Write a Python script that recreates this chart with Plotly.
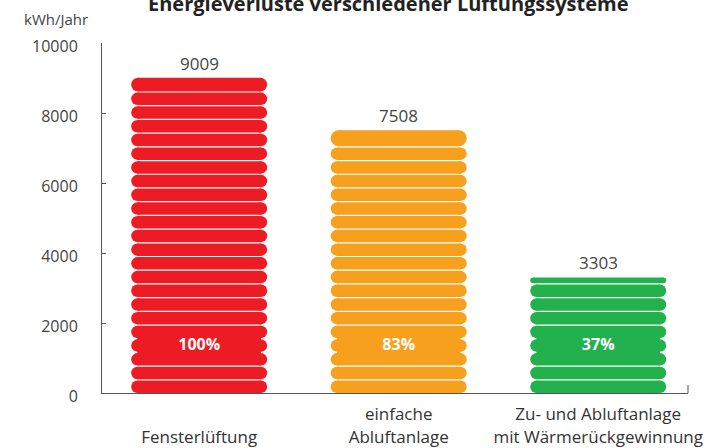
import plotly.graph_objects as go

# ---- data ----
categories = ["Fensterlüftung", "einfache<br>Abluftanlage", "Zu- und Abluftanlage<br>mit Wärmerückgewinnung"]
tick_text = ["<br>Fensterlüftung", "einfache<br>Abluftanlage", "Zu- und Abluftanlage<br>mit Wärmerückgewinnung"]
values = [9009, 7508, 3303]
value_labels = ["9009", "7508", "3303"]
percent_labels = ["100%", "83%", "37%"]
colors = ["#ED1C24", "#F7A01E", "#22B14C"]
y_tick_vals = [0, 2000, 4000, 6000, 8000, 10000]
y_tick_text = ["0", "2000", "4000", "6000", "8000", "10000"]
title_text = "Energieverluste verschiedener Lüftungssysteme"
y_unit_label = "kWh/Jahr"

# ---- style / geometry ----
W, H = 718, 448
M_L, M_R, M_T, M_B = 102, 30, 43, 55
PLOT_W = W - M_L - M_R
PLOT_H = H - M_T - M_B
X_RANGE = [-0.487, 2.450]
Y_RANGE = [0, 10000]
PX_X = PLOT_W / (X_RANGE[1] - X_RANGE[0])
PX_Y = PLOT_H / (Y_RANGE[1] - Y_RANGE[0])
STRIPE_UNIT = 391.7          # kWh per stripe
GAP_PX = 1.2
BAR_W_PX = 136
MERGE_FROM, MERGE_TO = 2, 4  # stripes merged behind percent label
FONT = "Open Sans, Noto Sans, sans-serif"
AXIS_COLOR = "#555555"
TEXT_COLOR = "#444444"

x_pos = list(range(len(categories)))
gap = GAP_PX / PX_Y

fig = go.Figure()


def stripes(v):
    n = int(v // STRIPE_UNIT)
    rem = v - n * STRIPE_UNIT
    out = []
    if rem / STRIPE_UNIT < 0.3:
        for k in range(n):
            b = k * STRIPE_UNIT
            t = v if k == n - 1 else (k + 1) * STRIPE_UNIT - gap
            out.append((b, t))
    else:
        for k in range(n):
            out.append((k * STRIPE_UNIT, (k + 1) * STRIPE_UNIT - gap))
        out.append((n * STRIPE_UNIT, v))
    return out


# merged block behind the percentage labels
half_straight = (BAR_W_PX / 2) / PX_X
pill_h_units = STRIPE_UNIT - gap
for xi, v, c in zip(x_pos, values, colors):
    r_units = (pill_h_units * PX_Y / 2) / PX_X
    b = MERGE_FROM * STRIPE_UNIT + pill_h_units / 2
    t = MERGE_TO * STRIPE_UNIT + pill_h_units / 2
    fig.add_trace(go.Bar(
        x=[xi], y=[t - b], base=[b], width=[2 * (half_straight - r_units)],
        marker=dict(color=c, line=dict(width=0)), hoverinfo="skip", showlegend=False))

# pills
for xi, v, c in zip(x_pos, values, colors):
    for b, t in stripes(v):
        h_px = (t - b) * PX_Y
        r_units = (h_px / 2) / PX_X
        yc = (b + t) / 2
        xs = [xi - half_straight + r_units, xi + half_straight - r_units]
        fig.add_trace(go.Scatter(
            x=xs, y=[yc, yc], mode="lines+markers",
            line=dict(color=c, width=h_px),
            marker=dict(color=c, size=h_px, line=dict(width=0)),
            hoverinfo="skip", showlegend=False))

# percent labels
fig.add_trace(go.Scatter(
    x=x_pos, y=[(MERGE_FROM + MERGE_TO + 1) / 2 * STRIPE_UNIT - gap / 2] * len(x_pos),
    mode="text", text=percent_labels,
    textfont=dict(family=FONT, size=16, color="white", weight="bold"),
    hoverinfo="skip", showlegend=False))

# value labels
for xi, v, lab in zip(x_pos, values, value_labels):
    fig.add_annotation(x=xi, y=v, text=lab, showarrow=False, yanchor="bottom", yshift=1,
                       font=dict(family=FONT, size=17, color=TEXT_COLOR))

# title and unit label
fig.add_annotation(xref="paper", yref="paper", x=(388 - M_L) / PLOT_W, y=1 + 24 / PLOT_H,
                   text="<b>" + title_text + "</b>", showarrow=False, xanchor="center", yanchor="bottom",
                   font=dict(family=FONT, size=20, color="#222222"))
fig.add_annotation(xref="paper", yref="paper", x=(56 - M_L) / PLOT_W, y=1 + 24 / PLOT_H,
                   text=y_unit_label, showarrow=False, xanchor="center", yanchor="middle",
                   font=dict(family=FONT, size=15, color=TEXT_COLOR))

# right end tick of x axis
fig.add_shape(type="line", xref="paper", yref="paper", x0=1, x1=1, y0=0, y1=8 / PLOT_H,
              line=dict(color=AXIS_COLOR, width=1))

fig.update_layout(
    width=W, height=H, autosize=False,
    margin=dict(l=M_L, r=M_R, t=M_T, b=M_B),
    paper_bgcolor="white", plot_bgcolor="white",
    barmode="overlay", showlegend=False,
    xaxis=dict(range=X_RANGE, tickmode="array", tickvals=x_pos, ticktext=tick_text,
               automargin=False,
               showgrid=False, zeroline=False, showline=True, linecolor=AXIS_COLOR, linewidth=1,
               ticks="", tickfont=dict(family=FONT, size=17, color="#333333"), ticklabelstandoff=6),
    yaxis=dict(range=Y_RANGE, tickmode="array", tickvals=y_tick_vals, ticktext=y_tick_text,
               automargin=False,
               showgrid=False, zeroline=False, showline=True, linecolor=AXIS_COLOR, linewidth=1,
               ticks="inside", ticklen=4, tickcolor=AXIS_COLOR,
               tickfont=dict(family=FONT, size=16, color=TEXT_COLOR),
               ticklabelstandoff=20, ticklabelshift=3),
)

fig.write_html("out.html", config={"displayModeBar": False},
               post_script="document.body.style.margin='0';document.body.style.padding='0';")
